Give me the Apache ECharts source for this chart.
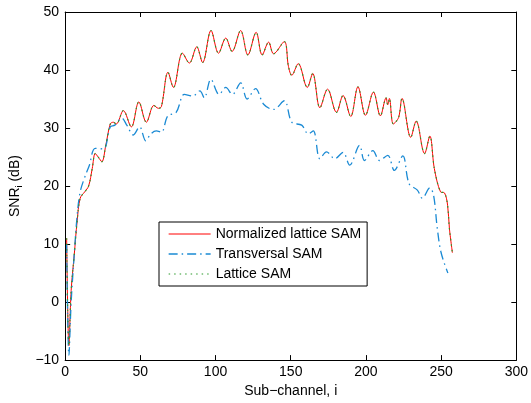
<!DOCTYPE html>
<html>

<head>
    <meta charset='utf-8'>
    <title>SNR per sub-channel</title>
    <script src='https://cdn.jsdelivr.net/npm/echarts@6/dist/echarts.min.js'></script>
    <style>
        html, body { margin: 0; padding: 0; background: #fff; }
        #chart { width: 531px; height: 403px; }
    </style>
</head>

<body>
    <div id='chart'></div>

    <script type='text/javascript'>
        // values (sub-channel index, SNR in dB)
        const redX = [1, 2.5, 4, 6, 8, 10, 13, 15.6, 18, 20, 22, 24.4, 27, 30, 32, 34, 38.7, 44, 49, 54, 59, 62, 64, 68.4, 72, 78, 82.6, 87.5, 91.4, 97, 102, 106.8, 111, 116.7, 121.5, 127, 131, 135.3, 138.6, 145.7, 148.5, 150.7, 155, 161, 164.6, 169.4, 174.5, 180.4, 184.8, 189.9, 194.7, 199.7, 205, 209.6, 213.4, 214.5, 215.6, 218.2, 221.7, 224, 229.8, 233.4, 239, 242.5, 245.5, 249.6, 252.3, 254.3, 255.5, 257.5]
        const redY = [11, -7.5, 2, 8, 14, 17.9, 19, 20, 23, 25.6, 25, 24.2, 27, 30.7, 31, 30.7, 33, 30.2, 34.5, 31, 33.9, 33.4, 33.7, 39.6, 37, 42.9, 41.2, 44, 41.3, 46.8, 42.9, 45.5, 43.2, 46.8, 42.6, 46.5, 42.6, 44.8, 42.8, 44.9, 40.6, 39.1, 41.1, 37, 39.4, 33.5, 36.7, 32.7, 35.6, 32, 37.1, 32.2, 36.2, 32.1, 35.2, 34, 35.1, 30.7, 31.8, 35.1, 28.4, 31.2, 25.6, 28.6, 23, 19, 18.8, 16.7, 12.7, 8.5]

        const blueX = [1, 2.5, 4, 6, 8, 10, 13, 16, 20, 25.5, 30, 33, 37.6, 41, 45.3, 49.5, 53.6, 57, 60.6, 64, 68.3, 73.8, 79.3, 84.8, 89.6, 92.5, 96.9, 102.4, 106.8, 111.2, 116.7, 121, 126.6, 132, 138.6, 145.7, 150.7, 157.3, 161.7, 165, 169.4, 173.8, 179.3, 184.8, 189.2, 195.8, 199, 204.6, 209, 214.5, 218.9, 224.5, 228.7, 234.2, 237.5, 242.5, 245, 247.4, 250, 254.5]
        const blueY = [10, -9.2, 0, 8, 15, 19, 21.5, 23.5, 26.5, 26.4, 30.2, 30.5, 31.7, 30.5, 28.8, 30.2, 27.8, 29, 29.5, 29.3, 32.1, 32.7, 35.8, 35.5, 36.4, 35.2, 38.4, 35.8, 37, 35.8, 37.8, 35, 36.8, 34.1, 33.2, 34.7, 31, 30.5, 29, 29.5, 24.7, 25.9, 24.7, 25.8, 23.6, 27, 24.4, 26.1, 24.4, 25.3, 22.7, 25.2, 20.4, 19.3, 17.9, 19.7, 18.4, 12.8, 8.5, 5]

        // lattice SAM sits right on top of the normalized curve
        const greenX = redX
        const greenY = redY

        const seriesNames = ['Normalized lattice SAM', 'Transversal SAM', 'Lattice SAM']
        const seriesColors = ['#ff0000', '#1a8ad4', '#2a9a2a']
        const seriesDash = ['solid', [9, 4, 1.5, 4], [1.5, 4]]
        const seriesWidth = [1, 1.3, 1.2]

        const pairs = (xs, ys) => xs.map((x, k) => [x, ys[k]])
        const minus = v => String(v).replace('-', '\u2212')
        const font = 'Liberation Sans, Arial, Helvetica, sans-serif'
        const lineOf = k => ({ color: seriesColors[k], width: seriesWidth[k], type: seriesDash[k] })

        const boxAxis = {
            axisLine: { show: true, onZero: false, lineStyle: { color: '#000', width: 1 } },
            axisTick: { show: true, inside: true, length: 5, lineStyle: { color: '#000' } },
            splitLine: { show: false }
        }

        const chart = echarts.init(document.getElementById('chart'))
        const option = {
            backgroundColor: '#fff',
            animation: false,
            textStyle: { fontFamily: font },
            grid: { left: 63, right: 13, top: 12, bottom: 40 },
            legend: {
                data: seriesNames.map((name, k) => ({ name, lineStyle: lineOf(k) })),
                orient: 'vertical',
                left: 159,
                top: 222,
                itemWidth: 42,
                itemHeight: 14,
                itemGap: 6,
                itemTextGap: 5,
                padding: [5, 6, 5, 9],
                borderColor: '#000',
                borderWidth: 1,
                borderRadius: 0,
                backgroundColor: '#fff',
                itemStyle: { opacity: 0 },
                textStyle: { fontSize: 14, color: '#000', fontFamily: font }
            },
            xAxis: [{
                type: 'value',
                min: 0, max: 300, interval: 50,
                name: 'Sub\u2212channel, i',
                nameLocation: 'middle',
                nameGap: 22,
                nameTextStyle: { fontSize: 14, color: '#000' },
                axisLabel: { fontSize: 14, color: '#000', margin: 5 },
                ...boxAxis
            }, {
                type: 'value', position: 'top',
                min: 0, max: 300, interval: 50,
                axisLabel: { show: false },
                ...boxAxis
            }],
            yAxis: [{
                type: 'value',
                min: -10, max: 50, interval: 10,
                name: 'SNR{sub|i} (dB)',
                nameLocation: 'middle',
                nameGap: 33,
                nameTextStyle: {
                    fontSize: 14, color: '#000',
                    rich: { sub: { fontSize: 9, verticalAlign: 'bottom', padding: [10, 0, 0, 0] } }
                },
                axisLabel: { fontSize: 14, color: '#000', margin: 6, formatter: minus },
                ...boxAxis
            }, {
                type: 'value', position: 'right',
                min: -10, max: 50, interval: 10,
                axisLabel: { show: false },
                ...boxAxis
            }],
            series: [
                [redX, redY],
                [blueX, blueY],
                [greenX, greenY]
            ].map(([xs, ys], k) => ({
                name: seriesNames[k],
                type: 'line',
                data: pairs(xs, ys),
                showSymbol: false, symbol: 'none',
                smooth: 0.35,
                color: seriesColors[k],
                lineStyle: lineOf(k)
            }))
        }
        chart.setOption(option)
    </script>
</body>

</html>
